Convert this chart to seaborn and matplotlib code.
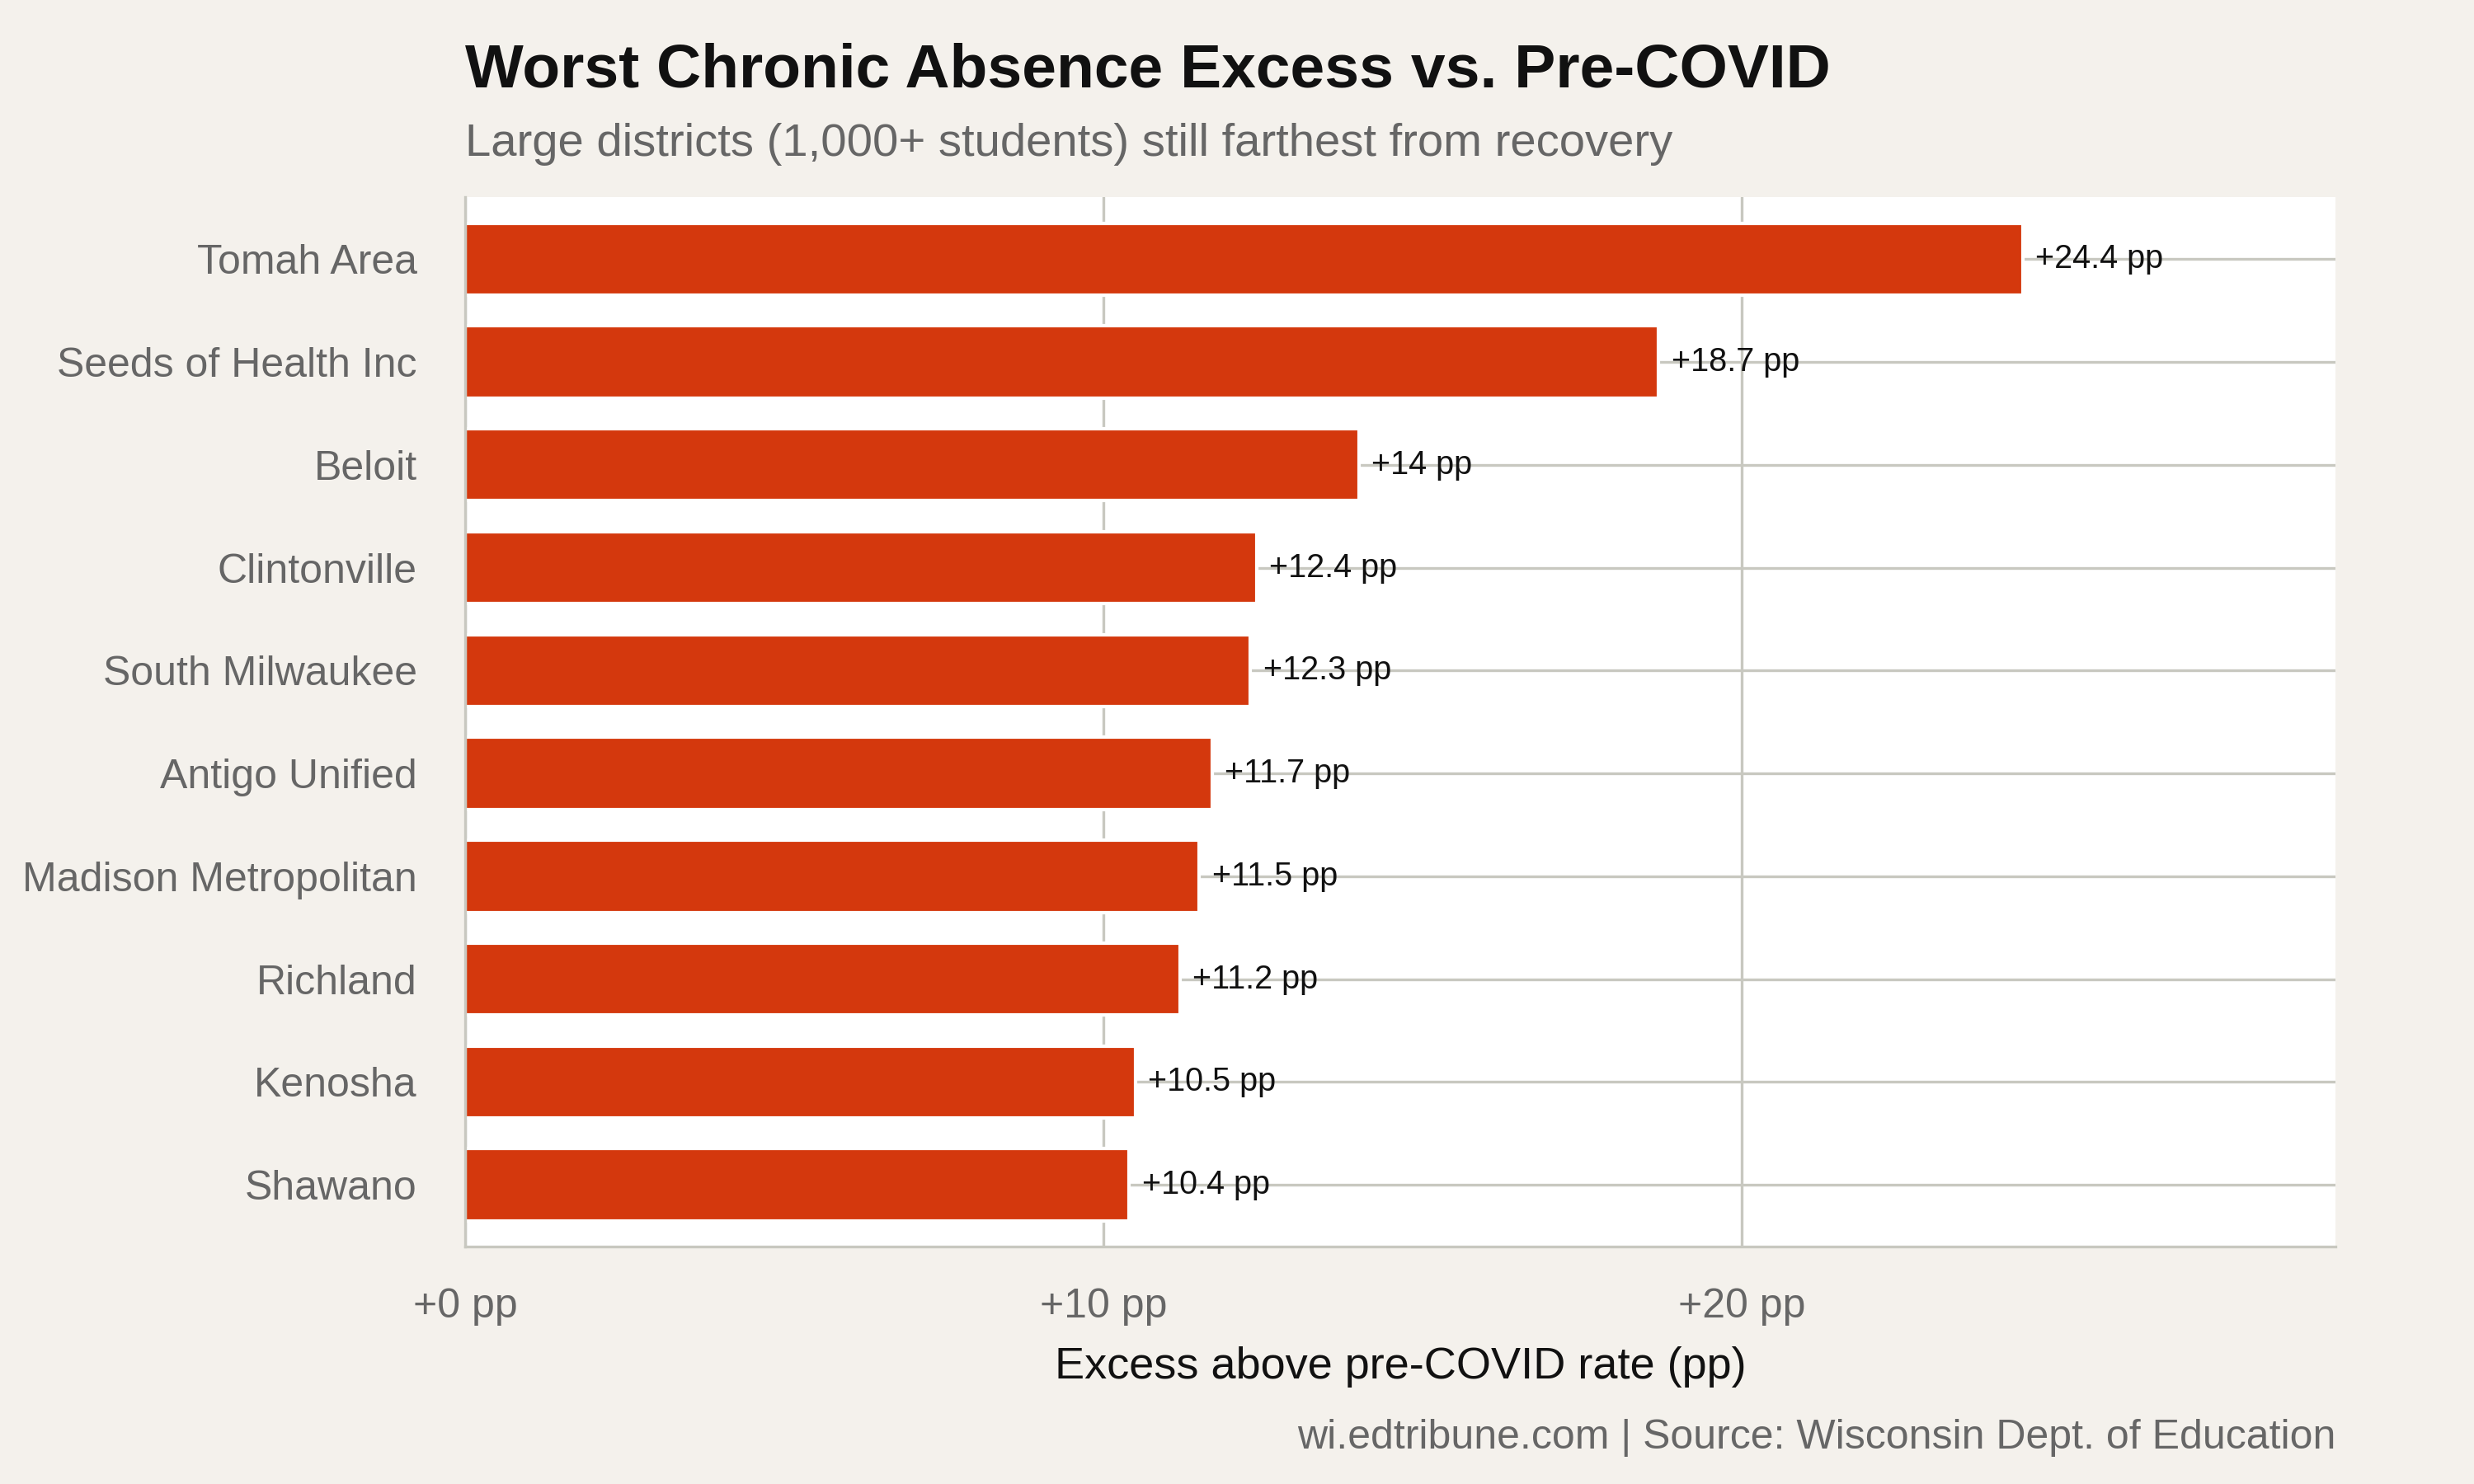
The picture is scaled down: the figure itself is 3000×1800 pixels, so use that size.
import matplotlib
matplotlib.use("Agg")
import matplotlib.pyplot as plt
import seaborn as sns
import pandas as pd

districts = ["Tomah Area", "Seeds of Health Inc", "Beloit", "Clintonville", "South Milwaukee",
             "Antigo Unified", "Madison Metropolitan", "Richland", "Kenosha", "Shawano"]
excess = [24.4, 18.7, 14.0, 12.4, 12.3, 11.7, 11.5, 11.2, 10.5, 10.4]
bar_labels = ["+24.4 pp", "+18.7 pp", "+14 pp", "+12.4 pp", "+12.3 pp",
              "+11.7 pp", "+11.5 pp", "+11.2 pp", "+10.5 pp", "+10.4 pp"]
xticks = [0, 10, 20]
xtick_labels = ["+0 pp", "+10 pp", "+20 pp"]

df = pd.DataFrame({"district": districts, "excess": excess})

sns.set_theme(style="white")
plt.rcParams["font.family"] = ["Liberation Sans", "DejaVu Sans"]

bg = "#F4F1EC"
fig = plt.figure(figsize=(10, 6), dpi=300, facecolor=bg)
ax = fig.add_axes([0.188, 0.16, 0.756, 0.707])
ax.set_facecolor("white")

sns.barplot(data=df, x="excess", y="district", color="#D4380D", width=0.7,
            saturation=1, ax=ax, zorder=2)
for i, (v, lab) in enumerate(zip(excess, bar_labels)):
    ax.text(v + 0.2, i, lab, va="center", ha="left", fontsize=9.5, color="#111111", zorder=3)

ax.set_xlim(0, 29.3)
ax.set_ylim(9.6, -0.6)
ax.set_xticks(xticks)
ax.set_xticklabels(xtick_labels, fontsize=12, color="#666666")
ax.tick_params(axis="y", labelsize=12, labelcolor="#666666", length=0, pad=14)
ax.tick_params(axis="x", length=0, pad=12)
ax.grid(True, axis="both", color="#C8C8C0", lw=0.8, zorder=0)
ax.set_axisbelow(True)
for s in ["top", "right"]:
    ax.spines[s].set_visible(False)
for s in ["left", "bottom"]:
    ax.spines[s].set_color("#C8C8C0")
    ax.spines[s].set_linewidth(0.8)
ax.set_ylabel("")
ax.set_xlabel("Excess above pre-COVID rate (pp)", fontsize=13, color="#111111", labelpad=6)

fig.text(0.188, 0.952, "Worst Chronic Absence Excess vs. Pre-COVID", fontsize=18,
         fontweight="bold", color="#111111", va="center")
fig.text(0.188, 0.903, "Large districts (1,000+ students) still farthest from recovery",
         fontsize=13.5, color="#666666", va="center")
fig.text(0.944, 0.031, "wi.edtribune.com | Source: Wisconsin Dept. of Education",
         fontsize=12, color="#666666", ha="right", va="center")

fig.savefig("out.png", dpi=300, facecolor=bg)
